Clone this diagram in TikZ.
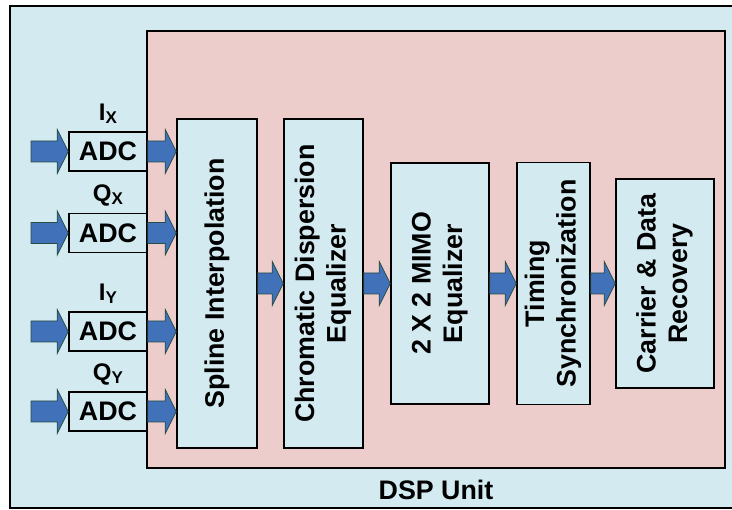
\documentclass[tikz,border=0pt]{standalone}
\usepackage{fontspec}
\setmainfont{Liberation Sans}
\usepackage{tikz}
\usetikzlibrary{calc,positioning}
\definecolor{panelblue}{RGB}{210,234,240}
\definecolor{panelpink}{RGB}{237,205,204}
\definecolor{arrblue}{RGB}{65,113,184}
\definecolor{arredge}{RGB}{38,78,70}
\newcommand{\lowsub}[1]{\raisebox{-3pt}{\fontsize{17}{17}\selectfont #1}}
\newcommand{\vlines}[1]{\rotatebox{90}{\begin{tabular}{@{}c@{}}#1\end{tabular}}}

\begin{document}
\begin{tikzpicture}[
  x=1pt, y=-1pt,
  font=\fontsize{26.8}{31.5}\selectfont\bfseries,
  node distance=25.4pt,
  box/.style={draw, line width=1.6pt, fill=panelblue, inner sep=0pt, align=center},
  lbl/.style={inner sep=0pt, font=\fontsize{24}{28}\selectfont\bfseries},
  barrow/.style={fill=arrblue, draw=arredge, line width=0.8pt,
    to path={let \p1=(\tikztostart), \p2=(\tikztotarget) in
      (\x1,\y1+10.5pt) -- (\x2-11pt,\y1+10.5pt) -- (\x2-11pt,\y1+22pt) -- (\x2,\y1)
      -- (\x2-11pt,\y1-22pt) -- (\x2-11pt,\y1-10.5pt) -- (\x1,\y1-10.5pt) -- cycle}}
]
\useasboundingbox (0,0) rectangle (732,510);
\draw[line width=2pt, fill=panelblue] (10,6) rectangle (745,508);
\draw[line width=1.6pt, fill=panelpink] (147,31) rectangle (725,468);

\node[box, minimum width=78pt, minimum height=39pt] (adcix) at (108,151.5) {ADC};
\node[box, minimum width=78pt, minimum height=39pt] (adcqx) at (108,233) {ADC};
\node[box, minimum width=78pt, minimum height=39pt] (adciy) at (108,331.5) {ADC};
\node[box, minimum width=78pt, minimum height=39pt] (adcqy) at (108,411.5) {ADC};
\node[lbl, above=11pt of adcix, anchor=base] (lix) {I\lowsub{X}};
\node[lbl, above=11pt of adcqx, anchor=base] (lqx) {Q\lowsub{X}};
\node[lbl, above=11pt of adciy, anchor=base] (liy) {I\lowsub{Y}};
\node[lbl, above=11pt of adcqy, anchor=base] (lqy) {Q\lowsub{Y}};

\node[box, minimum width=80pt, minimum height=329pt] (spline) at (217,283.5)
  {\rotatebox{90}{Spline Interpolation}};
\node[box, right=of spline, minimum width=79pt, minimum height=329pt] (chrom)
  {\vlines{Chromatic Dispersion\\Equalizer}};
\node[box, right=26.4pt of chrom, minimum width=98pt, minimum height=241pt] (mimo)
  {\vlines{2 X 2 MIMO\\Equalizer}};
\node[box, right=26.4pt of mimo, minimum width=73pt, minimum height=242pt] (timing)
  {\vlines{Timing\\Synchronization}};
\node[box, right=24.4pt of timing, minimum width=98pt, minimum height=209pt] (carrier)
  {\vlines{Carrier \& Data\\Recovery}};
\node[anchor=base] (dsplab) at (436,500) {DSP Unit};

\coordinate (inix) at (31,151.5);
\coordinate (inqx) at (31,233);
\coordinate (iniy) at (31,331.5);
\coordinate (inqy) at (31,411.5);
\draw[barrow] (inix) to (adcix.west);
\draw[barrow] (inqx) to (adcqx.west);
\draw[barrow] (iniy) to (adciy.west);
\draw[barrow] (inqy) to (adcqy.west);
\draw[barrow] (adcix.east) to (adcix.east -| spline.west);
\draw[barrow] (adcqx.east) to (adcqx.east -| spline.west);
\draw[barrow] (adciy.east) to (adciy.east -| spline.west);
\draw[barrow] (adcqy.east) to (adcqy.east -| spline.west);
\draw[barrow] (spline.east) to (chrom.west);
\draw[barrow] (chrom.east) to (mimo.west);
\draw[barrow] (mimo.east) to (timing.west);
\draw[barrow] (timing.east) to (carrier.west);
\end{tikzpicture}
\end{document}
